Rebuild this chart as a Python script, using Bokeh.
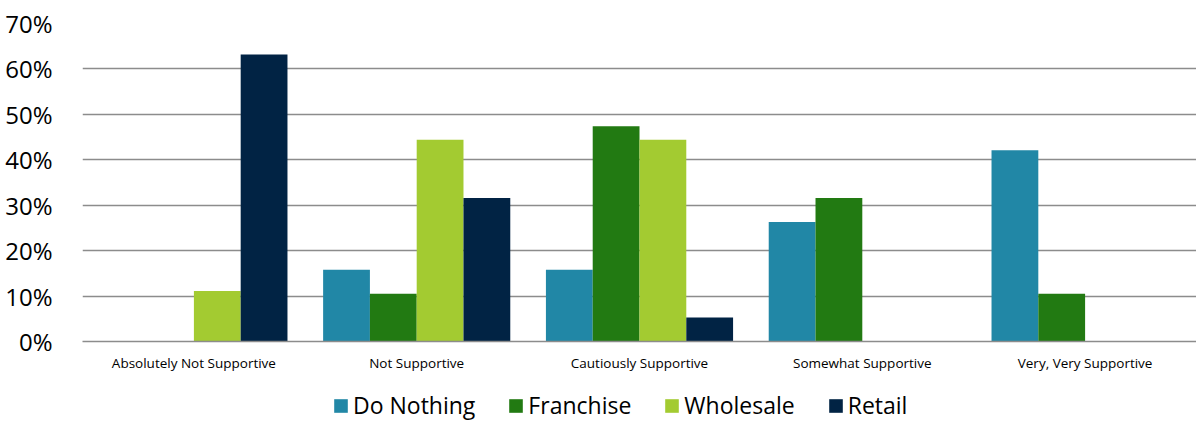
from bokeh.plotting import figure
from bokeh.layouts import column
from bokeh.models import ColumnDataSource, FactorRange, Range1d, FixedTicker, NumeralTickFormatter, Legend, LegendItem
from bokeh.transform import dodge
from bokeh.embed import file_html
from bokeh.resources import INLINE

categories = ["Absolutely Not Supportive", "Not Supportive", "Cautiously Supportive",
              "Somewhat Supportive", "Very, Very Supportive"]
series_names = ["Do Nothing", "Franchise", "Wholesale", "Retail"]
do_nothing = [0.0, 15.8, 15.8, 26.3, 42.1]
franchise = [0.0, 10.5, 47.4, 31.6, 10.5]
wholesale = [11.1, 44.4, 44.4, 0.0, 0.0]
retail = [63.2, 31.6, 5.3, 0.0, 0.0]
y_ticks = [0, 10, 20, 30, 40, 50, 60, 70]

colors = ["#2187a6", "#227a12", "#a3cb31", "#012344"]
FONT = "Open Sans"

src = ColumnDataSource(data=dict(
    cat=categories,
    s0=[v / 100 for v in do_nothing],
    s1=[v / 100 for v in franchise],
    s2=[v / 100 for v in wholesale],
    s3=[v / 100 for v in retail],
))

p = figure(x_range=FactorRange(*categories, range_padding=0), y_range=Range1d(0, 0.7),
           width=1196, height=374, output_backend="svg", toolbar_location=None,
           min_border_left=82, min_border_right=0, min_border_top=23, min_border_bottom=31)
p.outline_line_color = None
p.background_fill_color = "white"
p.border_fill_color = "white"

bw = 0.21
offsets = [-1.5 * bw, -0.5 * bw, 0.5 * bw, 1.5 * bw]
for i, name in enumerate(series_names):
    p.vbar(x=dodge("cat", offsets[i], range=p.x_range), top="s%d" % i, width=bw,
           source=src, fill_color=colors[i], line_color=None)

p.xgrid.grid_line_color = None
p.ygrid.grid_line_color = "#8c8c8c"
p.ygrid.grid_line_width = 1.5
p.yaxis.ticker = FixedTicker(ticks=[t / 100 for t in y_ticks])
p.yaxis.formatter = NumeralTickFormatter(format="0%")
p.yaxis.axis_line_color = None
p.yaxis.major_tick_line_color = None
p.yaxis.minor_tick_line_color = None
p.yaxis.major_label_text_font = FONT
p.yaxis.major_label_text_font_size = "24px"
p.yaxis.major_label_text_color = "#000000"
p.yaxis.major_label_standoff = 24

p.xaxis.axis_line_color = "#8c8c8c"
p.xaxis.axis_line_width = 1.5
p.xaxis.major_tick_line_color = None
p.xaxis.minor_tick_line_color = None
p.xaxis.major_label_text_font = FONT
p.xaxis.major_label_text_font_size = "13.5px"
p.xaxis.major_label_text_color = "#000000"
p.xaxis.major_label_standoff = 6

# legend in a separate strip below the chart
lg = figure(x_range=Range1d(0, 1), y_range=Range1d(0, 1), width=1196, height=47,
            output_backend="svg", toolbar_location=None, x_axis_type=None, y_axis_type=None,
            min_border_left=0, min_border_right=0, min_border_top=0, min_border_bottom=0)
lg.outline_line_color = None
lg.xgrid.visible = False
lg.ygrid.visible = False
items = []
for i, name in enumerate(series_names):
    r = lg.vbar(x=[-5], top=[-5], bottom=[-6], width=0.1, fill_color=colors[i], line_color=None)
    items.append(LegendItem(label=name, renderers=[r]))
legend = Legend(items=items, orientation="horizontal", location=(250, 0),
                label_text_font=FONT, label_text_font_size="23px", label_text_color="#000000",
                glyph_width=17, glyph_height=17, label_standoff=4, spacing=32,
                border_line_color=None, background_fill_alpha=0, margin=0, padding=0)
lg.add_layout(legend, "center")

layout = column(p, lg)
open("out.html", "w").write(file_html(layout, INLINE))
